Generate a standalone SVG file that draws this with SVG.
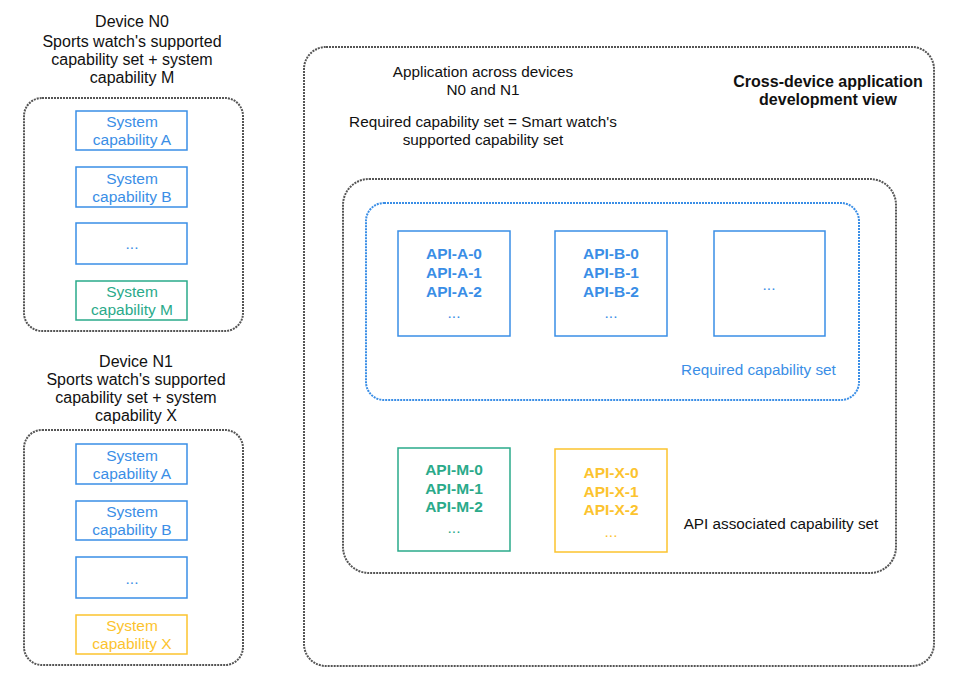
<svg xmlns="http://www.w3.org/2000/svg" width="958" height="678" viewBox="0 0 958 678">
<style>
text{font-family:"Liberation Sans",Arial,sans-serif;text-anchor:middle;dominant-baseline:central}
.t{font-size:16px;fill:#111}
.m{font-size:15.3px;fill:#111}
.bold{font-size:16px;font-weight:bold;fill:#111}
.dot{fill:none;stroke:#555;stroke-width:2;stroke-dasharray:2 1}
.bdot{fill:none;stroke:#3a8ee6;stroke-width:2;stroke-dasharray:2 1}
.b{fill:#fff;stroke:#3a8ee6;stroke-width:1.5}
.g{fill:#fff;stroke:#2aaa8a;stroke-width:1.5}
.y{fill:#fff;stroke:#fcc32e;stroke-width:1.5}
.bt{font-size:15.5px;fill:#3a8ee6}
.gt{font-size:15.5px;fill:#2aaa8a}
.yt{font-size:15.5px;fill:#fcc32e}
.api{font-size:15.5px;font-weight:bold}
</style>
<rect width="958" height="678" fill="#fff"/>
<g id="deviceN0">
<text class="t" x="132" y="21.5">Device N0</text>
<text class="t" x="132" y="41.5">Sports watch's supported</text>
<text class="t" x="132" y="59.5">capability set + system</text>
<text class="t" x="132" y="77.5">capability M</text>
<rect class="dot" x="24" y="98" width="219" height="233" rx="18"/>
</g>
<g id="n0-capA"><rect class="b" x="76" y="111" width="111" height="39"/><text class="bt" x="132" y="121.5">System</text><text class="bt" x="132" y="139.5">capability A</text></g>
<g id="n0-capB"><rect class="b" x="76" y="167" width="111" height="40"/><text class="bt" x="132" y="178.5">System</text><text class="bt" x="132" y="196.5">capability B</text></g>
<g id="n0-more"><rect class="b" x="76" y="223" width="111" height="41"/><text class="bt" x="132" y="243">...</text></g>
<g id="n0-capM"><rect class="g" x="76" y="281" width="111" height="39"/><text class="gt" x="132" y="291.5">System</text><text class="gt" x="132" y="309.5">capability M</text></g>

<g id="deviceN1">
<text class="t" x="136" y="361.5">Device N1</text>
<text class="t" x="136" y="379.5">Sports watch's supported</text>
<text class="t" x="136" y="397.5">capability set + system</text>
<text class="t" x="136" y="415.5">capability X</text>
<rect class="dot" x="24" y="430" width="219" height="235" rx="18"/>
</g>
<g id="n1-capA"><rect class="b" x="76" y="444" width="111" height="40"/><text class="bt" x="132" y="455.5">System</text><text class="bt" x="132" y="473.5">capability A</text></g>
<g id="n1-capB"><rect class="b" x="76" y="501" width="111" height="39"/><text class="bt" x="132" y="511.5">System</text><text class="bt" x="132" y="529.5">capability B</text></g>
<g id="n1-more"><rect class="b" x="76" y="557" width="111" height="41"/><text class="bt" x="132" y="578">...</text></g>
<g id="n1-capX"><rect class="y" x="76" y="615" width="111" height="39"/><text class="yt" x="132" y="625.5">System</text><text class="yt" x="132" y="643.5">capability X</text></g>

<g id="app-view">
<rect class="dot" x="304" y="47" width="630" height="619" rx="22"/>
<text class="m" x="483" y="71.5">Application across devices</text>
<text class="m" x="483" y="89.5">N0 and N1</text>
<text class="m" x="483" y="121.5">Required capability set = Smart watch's</text>
<text class="m" x="483" y="139.5">supported capability set</text>
<text class="bold" x="828" y="81.5">Cross-device application</text>
<text class="bold" x="828" y="99.5">development view</text>
</g>
<g id="api-set">
<rect class="dot" x="343" y="179" width="553" height="394" rx="26"/>
<text class="m" x="781" y="523.5">API associated capability set</text>
</g>
<g id="required-set">
<rect class="bdot" x="366" y="203" width="493" height="197" rx="18"/>
<text class="bt" x="758.5" y="369.5" style="font-size:15.3px">Required capability set</text>
</g>
<g id="api-A"><rect class="b" x="398" y="231" width="112" height="105"/>
<text class="api" fill="#3a8ee6" x="454" y="253.5">API-A-0</text><text class="api" fill="#3a8ee6" x="454" y="272.5">API-A-1</text><text class="api" fill="#3a8ee6" x="454" y="291.5">API-A-2</text><text class="bt" x="454" y="312">...</text></g>
<g id="api-B"><rect class="b" x="555" y="231" width="112" height="105"/>
<text class="api" fill="#3a8ee6" x="611" y="253.5">API-B-0</text><text class="api" fill="#3a8ee6" x="611" y="272.5">API-B-1</text><text class="api" fill="#3a8ee6" x="611" y="291.5">API-B-2</text><text class="bt" x="611" y="312">...</text></g>
<g id="api-more"><rect class="b" x="714" y="231" width="111" height="105"/><text class="bt" x="769" y="284">...</text></g>
<g id="api-M"><rect class="g" x="398" y="448" width="112" height="103"/>
<text class="api" fill="#2aaa8a" x="454" y="469.5">API-M-0</text><text class="api" fill="#2aaa8a" x="454" y="488.5">API-M-1</text><text class="api" fill="#2aaa8a" x="454" y="506.5">API-M-2</text><text class="gt" x="454" y="527">...</text></g>
<g id="api-X"><rect class="y" x="555" y="449" width="112" height="103"/>
<text class="api" fill="#fcc32e" x="611" y="472.5">API-X-0</text><text class="api" fill="#fcc32e" x="611" y="491.5">API-X-1</text><text class="api" fill="#fcc32e" x="611" y="509.5">API-X-2</text><text class="yt" x="611" y="531">...</text></g>
<g id="connectors"></g>
</svg>
